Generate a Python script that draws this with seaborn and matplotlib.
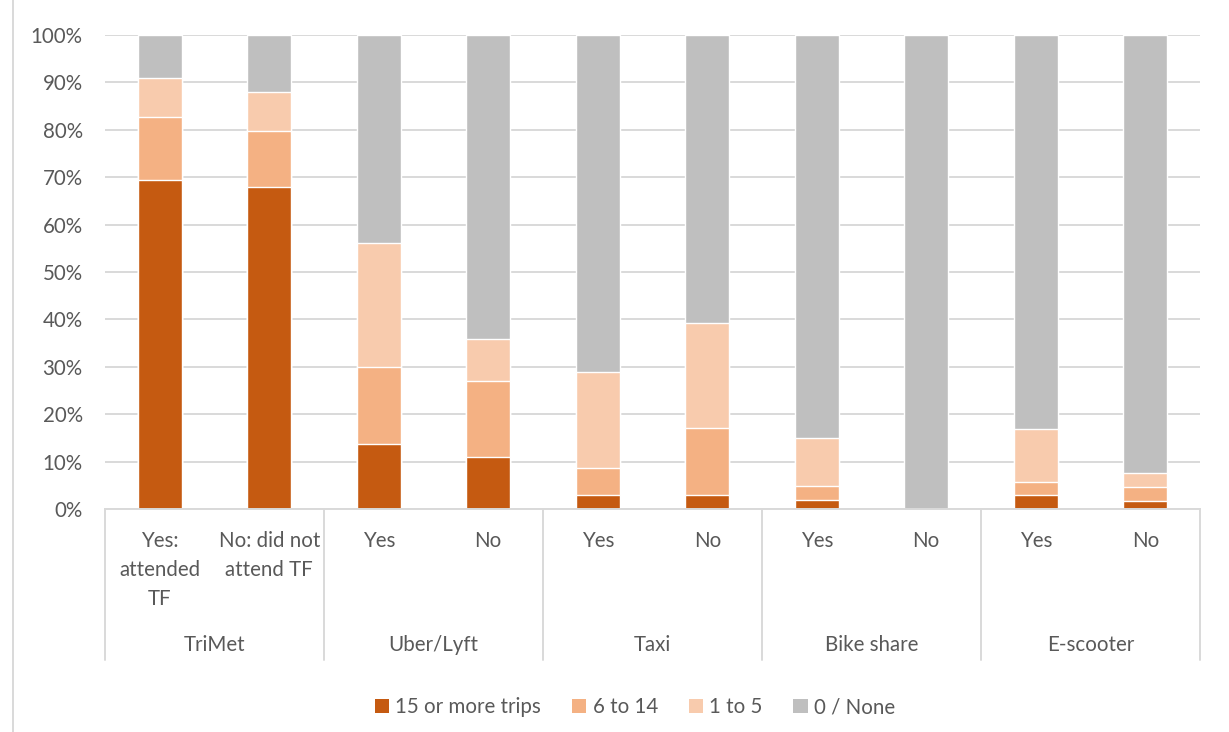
"""Stacked 100% bars: trip frequency by mode and Transportation Fair attendance."""

import matplotlib.pyplot as plt
import matplotlib.transforms as mtransforms
from matplotlib.lines import Line2D
from matplotlib.patches import Patch
from matplotlib.ticker import PercentFormatter
import numpy as np
import pandas as pd
import seaborn as sns

# Data (shares)
groups = ["TriMet", "Uber/Lyft", "Taxi", "Bike share", "E-scooter"]
sub_labels = ["Yes:\nattended\nTF", "No: did not\nattend TF",
              "Yes", "No", "Yes", "No", "Yes", "No", "Yes", "No"]
trips_15_plus = [69.5, 67.9, 13.8, 10.9, 2.9, 2.9, 2.0, 0.0, 2.9, 1.6]
trips_6_14 = [13.1, 11.9, 16.2, 16.0, 5.8, 14.1, 2.8, 0.0, 2.9, 3.0]
trips_1_5 = [8.3, 8.2, 26.1, 9.0, 20.3, 22.3, 10.1, 0.0, 11.1, 3.1]
series_names = ["15 or more trips", "6 to 14", "1 to 5", "0 / None"]

COLORS = ["#C55A11", "#F4B183", "#F8CBAD", "#BFBFBF"]
TEXT = "#595959"
GRID = "#D9D9D9"
FS = 14.8

sns.set_style("white")
plt.rcParams["font.family"] = ["Lato", "DejaVu Sans"]

W, H = 1229, 732
fig = plt.figure(figsize=(W / 100, H / 100), dpi=100)
ax = fig.add_axes([105 / W, 1 - 509 / H, (1200 - 105) / W, (509 - 35) / H])

ids = [f"b{i}" for i in range(len(sub_labels))]
df = pd.DataFrame({
    "id": ids,
    "s1": trips_15_plus,
    "s2": trips_6_14,
    "s3": trips_1_5,
})
df["s4"] = 100.0 - df[["s1", "s2", "s3"]].sum(axis=1)

# cumulative tops, drawn tallest first so the lower segments sit on top
cum = df[["s1", "s2", "s3", "s4"]].cumsum(axis=1) / 100
for col, color in zip(["s4", "s3", "s2", "s1"], COLORS[::-1]):
    sns.barplot(x=df["id"], y=cum[col], order=ids, color=color,
                width=0.4, saturation=1, ax=ax, zorder=3)

ax.set_xlim(-0.5, len(ids) - 0.5)
ax.set_ylim(0, 1)
ax.set_yticks(np.arange(0, 1.01, 0.1))
ax.yaxis.set_major_formatter(PercentFormatter(1.0, decimals=0))
ax.tick_params(axis="y", length=0, pad=16, labelsize=FS, labelcolor=TEXT)
ax.set_xticks([])
ax.set_xlabel("")
ax.set_ylabel("")
ax.grid(axis="y", color=GRID, lw=1.4, zorder=0)
for side in ["left", "right", "top"]:
    ax.spines[side].set_visible(False)
ax.spines["bottom"].set_color(GRID)
ax.spines["bottom"].set_linewidth(1.4)
ax.spines["bottom"].set_zorder(4)

# two-level category axis
trans = mtransforms.blended_transform_factory(ax.transData, fig.transFigure)
for i, lab in enumerate(sub_labels):
    fig.text(i, 1 - 531 / H, lab, transform=trans, ha="center", va="top",
             fontsize=FS, color=TEXT, linespacing=1.55)
for g, name in enumerate(groups):
    fig.text(2 * g + 0.5, 1 - 645 / H, name, transform=trans, ha="center",
             va="center", fontsize=FS, color=TEXT)
for xb in np.arange(-0.5, len(ids), 2):
    fig.add_artist(Line2D([xb, xb], [1 - 509 / H, 1 - 660 / H], transform=trans,
                          color=GRID, lw=1.4))

# chart frame edge on the left
fig.add_artist(Line2D([13 / W, 13 / W], [0, 1], transform=fig.transFigure,
                      color=GRID, lw=1.4))

handles = [Patch(facecolor=c, edgecolor="none") for c in COLORS]
fig.legend(handles, series_names, loc="center", bbox_to_anchor=(635 / W, 1 - 707 / H),
           ncol=4, frameon=False, fontsize=FS, labelcolor=TEXT,
           handlelength=0.7, handleheight=0.7, handletextpad=0.3, columnspacing=1.5)

fig.savefig("out.png", dpi=100)
